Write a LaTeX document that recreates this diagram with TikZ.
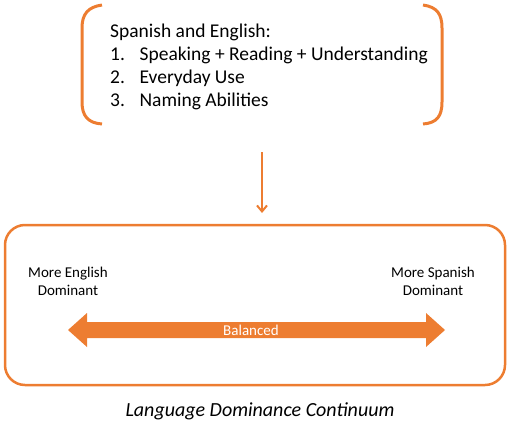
\documentclass[tikz,border=0pt]{standalone}
\usepackage{fontspec}
\setmainfont{Carlito}
\usetikzlibrary{arrows.meta}
\definecolor{orng}{HTML}{ED7D31}
\begin{document}
\begin{tikzpicture}[x=1pt,y=-1pt,
  bracket/.style={draw=orng,line width=3pt},
  conn/.style={draw=orng,line width=2pt,-{Straight Barb[length=6pt,width=10pt]}},
  label/.style={font=\fontsize{15}{18}\selectfont,align=center,inner sep=0pt},
  listtext/.style={font=\fontsize{19.5}{23}\selectfont,align=left,inner sep=0pt,anchor=north west},
  panel/.style={draw=orng,line width=2.5pt,rounded corners=20pt},
  bigarrow/.style={fill=orng,draw=none}]
\useasboundingbox (0,0) rectangle (510,428);
% brackets
\draw[bracket] (102,5) .. controls (88,7) and (82,14) .. (82,28) -- (82,102) .. controls (82,116) and (88,123) .. (102,124);
\draw[bracket] (423,5) .. controls (437,7) and (442,14) .. (442,28) -- (442,102) .. controls (442,116) and (437,123) .. (423,124);
% list text
\node[listtext] (list) at (110,24) {Spanish and English:\\[0pt]
1.\hspace{0.75em}Speaking + Reading + Understanding\\
2.\hspace{0.75em}Everyday Use\\
3.\hspace{0.75em}Naming Abilities};
\coordinate (top) at (262,152);
% panel
\draw[panel] (5,225) rectangle (505,385);
\coordinate (panelTop) at (262,213);
\draw[conn] (top) -- (panelTop);
\node[label] (eng) at (68,281) {More English\\Dominant};
\node[label] (spa) at (433,281) {More Spanish\\Dominant};
\fill[bigarrow] (68,330) -- (87,313) -- (87,322) -- (426,322) -- (426,313) -- (445,330) -- (426,347) -- (426,338) -- (87,338) -- (87,347) -- cycle;
\node[text=white,font=\fontsize{15}{18}\selectfont,inner sep=0pt] (baltext) at (251,330) {Balanced};
\node[font=\itshape\fontsize{20}{24}\selectfont,inner sep=0pt] (cap) at (260,411) {Language Dominance Continuum};
\end{tikzpicture}
\end{document}
